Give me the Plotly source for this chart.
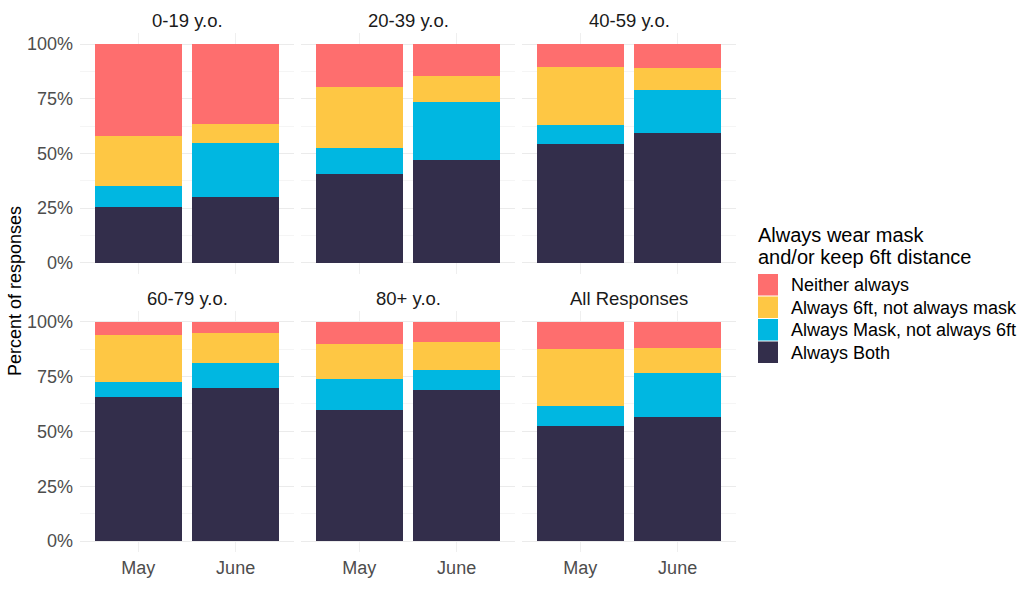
import plotly.graph_objects as go

panels = ["0-19 y.o.", "20-39 y.o.", "40-59 y.o.", "60-79 y.o.", "80+ y.o.", "All Responses"]
months = ["May", "June"]
categories = ["Always Both", "Always Mask, not always 6ft", "Always 6ft, not always mask", "Neither always"]
legend_order = ["Neither always", "Always 6ft, not always mask", "Always Mask, not always 6ft", "Always Both"]
legend_title = ["Always wear mask", "and/or keep 6ft distance"]
colors = {"Always Both": "#332E4B", "Always Mask, not always 6ft": "#00B7E1",
          "Always 6ft, not always mask": "#FEC744", "Neither always": "#FE6E6E"}

# percent values per panel: [May, June]
both = [[25.6, 29.9], [40.6, 46.8], [54.3, 59.4], [65.8, 69.8], [59.6, 68.7], [52.6, 56.7]]
mask = [[9.6, 24.7], [12.0, 26.8], [8.7, 19.6], [6.6, 11.5], [14.1, 9.4], [9.1, 20.0]]
sixft = [[22.7, 8.7], [27.9, 11.9], [26.5, 10.0], [21.5, 13.4], [16.0, 12.8], [25.7, 11.4]]
neither = [[42.1, 36.7], [19.5, 14.5], [10.5, 11.0], [6.1, 5.3], [10.3, 9.1], [12.6, 11.9]]
series = {"Always Both": both, "Always Mask, not always 6ft": mask,
          "Always 6ft, not always mask": sixft, "Neither always": neither}

W, H = 1024, 593
col_px = [(80, 294), (301, 515), (522, 736)]
row_px = [(33.1, 273.6), (310.7, 552.0)]
title_px = [20.7, 298.3]


def px(v):
    return v / W


def py(v):
    return (H - v) / H


fig = go.Figure()
layout = {}
font = "Liberation Sans, Arial, sans-serif"
annotations = []
shapes = []
for i, p in enumerate(panels):
    r, c = divmod(i, 3)
    n = i + 1
    xa = "xaxis" if n == 1 else f"xaxis{n}"
    ya = "yaxis" if n == 1 else f"yaxis{n}"
    xr = "x" if n == 1 else f"x{n}"
    yr = "y" if n == 1 else f"y{n}"
    for cat in categories:
        fig.add_trace(go.Bar(x=months, y=series[cat][i], name=cat, marker_color=colors[cat],
                             marker_line_width=0, width=0.9, xaxis=xr, yaxis=yr,
                             legendgroup=cat, showlegend=False))
    x0, x1 = col_px[c]
    y0, y1 = row_px[r]
    layout[xa] = dict(domain=[px(x0), px(x1)], anchor=yr, type="category",
                      categoryorder="array", categoryarray=months, range=[-0.6, 1.6],
                      showgrid=True, gridcolor="#EFEFEF", gridwidth=1, zeroline=False,
                      showticklabels=(r == 1), ticklabelstandoff=3,
                      tickfont=dict(size=18, color="#4D4D4D", family=font),
                      ticks="", showline=False, fixedrange=True)
    layout[ya] = dict(domain=[py(y1), py(y0)], anchor=xr, range=[-5, 105],
                      tickvals=[0, 25, 50, 75, 100], ticktext=["0%", "25%", "50%", "75%", "100%"],
                      showgrid=True, gridcolor="#EBEBEB", gridwidth=1, zeroline=False,
                      minor=dict(tickvals=[12.5, 37.5, 62.5, 87.5], showgrid=True,
                                 gridcolor="#F5F5F5", gridwidth=1),
                      showticklabels=(c == 0), ticklabelstandoff=6,
                      tickfont=dict(size=18, color="#4D4D4D", family=font),
                      ticks="", showline=False, fixedrange=True)
    annotations.append(dict(
        text=p, x=px((x0 + x1) / 2), y=py(title_px[r]), xref="paper", yref="paper",
        showarrow=False, font=dict(size=18.5, color="#1A1A1A", family=font),
        xanchor="center", yanchor="middle"))

annotations.append(dict(
    text="Percent of responses", x=px(15), y=py(291), xref="paper", yref="paper",
    showarrow=False, textangle=-90, font=dict(size=18, color="#000000", family=font),
    xanchor="center", yanchor="middle"))

# legend (drawn as keys + labels)
for k, line in enumerate(legend_title):
    annotations.append(dict(
        text=line, x=px(756), y=py(235 + 22 * k), xref="paper", yref="paper",
        showarrow=False, align="left", font=dict(size=20, color="#000000", family=font),
        xanchor="left", yanchor="middle"))
key_top = 274
for k, cat in enumerate(legend_order):
    t = key_top + k * 22.5
    shapes.append(dict(type="rect", xref="paper", yref="paper",
                       x0=px(758), x1=px(778), y0=py(t + 21.5), y1=py(t),
                       fillcolor=colors[cat], line_width=0))
    annotations.append(dict(
        text=cat, x=px(789), y=py(t + 11), xref="paper", yref="paper", showarrow=False,
        font=dict(size=18, color="#000000", family=font), xanchor="left", yanchor="middle"))

fig.update_layout(
    **layout,
    annotations=annotations,
    shapes=shapes,
    width=W, height=H,
    margin=dict(l=0, r=0, t=0, b=0),
    barmode="stack",
    bargap=0.1,
    plot_bgcolor="white", paper_bgcolor="white",
    font=dict(family=font, color="#000000"),
    showlegend=False,
    hovermode=False,
)

fig.write_html("out.html", config={"displayModeBar": False},
               post_script="document.body.style.margin='0';")
